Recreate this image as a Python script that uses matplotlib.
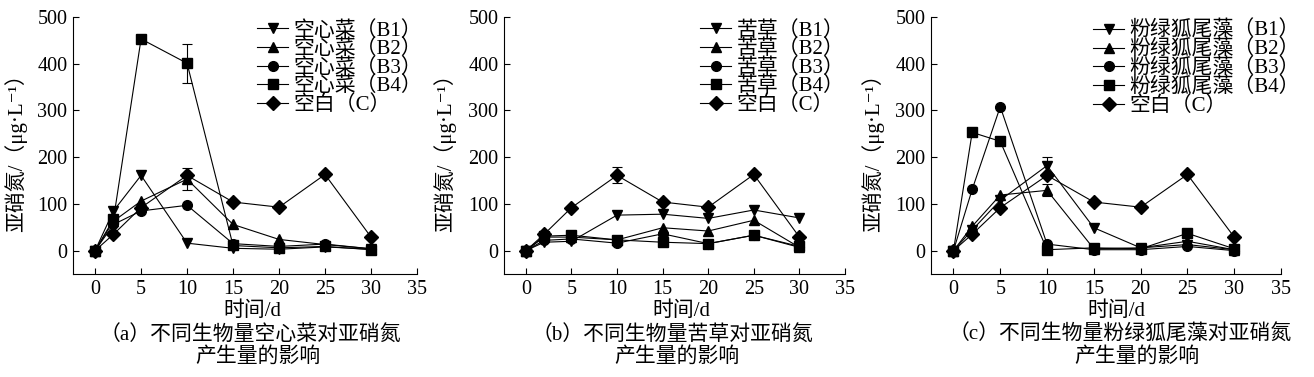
import numpy as np
import matplotlib
matplotlib.use("Agg")
import matplotlib.pyplot as plt

plt.rcParams['font.family'] = ['Liberation Serif', 'Noto Sans CJK SC', 'DejaVu Serif']
plt.rcParams['axes.unicode_minus'] = False

days = [0, 2, 5, 10, 15, 20, 25, 30]

# blank control, same in all three panels
blank = [0, 35, 92, 161, 104, 93, 163, 29]

# (a) water spinach
a_b1 = [0, 85, 161, 16, 5, 3, 8, 3]
a_b2 = [0, 63, 106, 153, 56, 24, 13, 4]
a_b3 = [0, 56, 85, 97, 15, 9, 14, 4]
a_b4 = [0, 67, 453, 401, 11, 6, 9, 2]
a_err_b4 = [0, 0, 0, 42, 0, 0, 0, 0]
a_err_b2 = [0, 0, 0, 23, 0, 0, 0, 0]

# (b) bitter grass
b_b1 = [0, 18, 20, 76, 78, 69, 87, 70]
b_b2 = [0, 29, 29, 23, 49, 42, 65, 7]
b_b3 = [0, 22, 25, 16, 36, 15, 33, 7]
b_b4 = [0, 31, 33, 23, 18, 15, 33, 9]
b_err_c = [0, 0, 0, 17, 0, 0, 0, 0]

# (c) parrot feather
c_b1 = [0, 44, 108, 182, 49, 6, 13, 2]
c_b2 = [0, 52, 119, 129, 4, 6, 20, 2]
c_b3 = [0, 131, 308, 14, 2, 2, 9, 0]
c_b4 = [0, 253, 234, 2, 6, 4, 37, 4]
c_err_b1 = [0, 0, 0, 18, 0, 0, 0, 0]
c_err_b2 = [0, 0, 0, 13, 0, 0, 0, 0]

names = ["空心菜", "苦草", "粉绿狐尾藻"]
tags = ["（a）", "（b）", "（c）"]
markers = ["v", "^", "o", "s", "D"]

fs = 15
W, H = 1314, 377
fig = plt.figure(figsize=(W / 100, H / 100), dpi=100)

boxes = [(73, 417), (504, 845), (931, 1281)]
top_px, bot_px = 17, 274
leg_x = [257, 700, 1093]
ylab_x = [16, 445, 873]
xlab_x = [252, 681, 1116]
cap1_x = [250, 672, 1120]
cap2_x = [258, 677, 1137]

panels = [
    ([a_b1, a_b2, a_b3, a_b4, blank], [(3, a_b4, a_err_b4), (3, a_b2, a_err_b2)]),
    ([b_b1, b_b2, b_b3, b_b4, blank], [(4, blank, b_err_c)]),
    ([c_b1, c_b2, c_b3, c_b4, blank], [(0, c_b1, c_err_b1), (1, c_b2, c_err_b2)]),
]

for i, (series, errs) in enumerate(panels):
    l, r = boxes[i]
    ax = fig.add_axes([l / W, (H - bot_px) / H, (r - l) / W, (bot_px - top_px) / H])
    labels = [names[i] + "（B%d）" % k for k in range(1, 5)] + ["空白（C）"]
    for s, m, lab in zip(series, markers, labels):
        ms = 7.5 if m == "D" else 7
        ax.plot(days, s, marker=m, color="black", lw=0.8, ms=ms, label=lab)
    for _, s, e in errs:
        x = np.array(days)
        s = np.array(s)
        e = np.array(e)
        k = e > 0
        ax.errorbar(x[k], s[k], yerr=e[k], fmt="none", ecolor="black",
                    elinewidth=0.8, capsize=3.5, capthick=0.8)
    ax.set_xlim(-2.4, 35)
    ax.set_ylim(-50, 500)
    ax.set_xticks(range(0, 36, 5))
    ax.set_yticks(range(0, 501, 100))
    ax.spines["top"].set_visible(False)
    ax.spines["right"].set_visible(False)
    for sp in ["left", "bottom"]:
        ax.spines[sp].set_linewidth(0.8)
    ax.tick_params(direction="in", length=4, width=0.8, labelsize=14.5, pad=4)
    ax.legend(loc="upper left", bbox_to_anchor=((leg_x[i] - l) / (r - l), 0.985),
              frameon=False, fontsize=fs, labelspacing=-0.06, handlelength=1.5,
              handletextpad=0.25, borderpad=0, borderaxespad=0)
    fig.text(ylab_x[i] / W, 1 - 148 / H, "亚硝氮/（μg·L⁻¹）", rotation=90,
             ha="center", va="center", fontsize=fs)
    fig.text(xlab_x[i] / W, 1 - 311 / H, "时间/d", ha="center", va="center", fontsize=fs)
    fig.text(cap1_x[i] / W, 1 - 335 / H, tags[i] + "不同生物量" + names[i] + "对亚硝氮",
             ha="center", va="center", fontsize=fs)
    fig.text(cap2_x[i] / W, 1 - 357 / H, "产生量的影响", ha="center", va="center", fontsize=fs)

fig.savefig("out.png", dpi=100)
